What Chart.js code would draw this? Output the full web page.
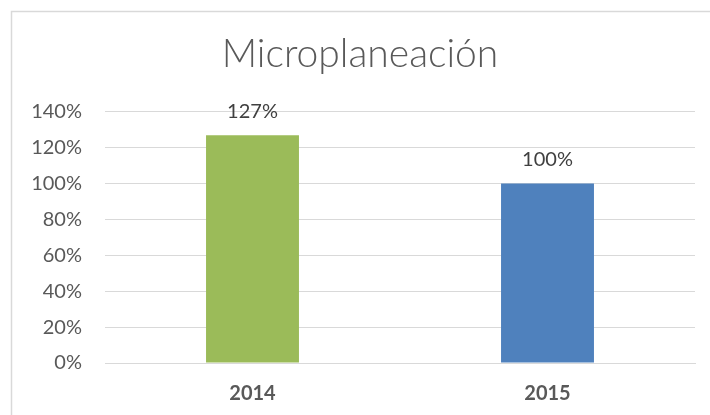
<!DOCTYPE html>
<html>
<head>
<meta charset="utf-8">
<script src="https://cdn.jsdelivr.net/npm/chart.js@4"></script>
<style>
  html, body { margin: 0; padding: 0; background: #fff; }
  #wrap { width: 710px; height: 415px; position: relative; }
</style>
</head>
<body>
<div id="wrap"><canvas id="chart" width="710" height="415"></canvas></div>
<script>
const TITLE = 'Microplaneación';
const YEARS = ['2014', '2015'];
const VALUES = [127, 100];
const BAR_COLORS = ['#9bbb59', '#4f81bd'];
const Y_MAX = 140;
const Y_STEP = 20;

// frame of the original chart (left and top edges only are visible)
const framePlugin = {
    id: 'frame',
    beforeDraw(chart) {
        const c = chart.ctx;
        c.save();
        c.strokeStyle = '#d9d9d9';
        c.lineWidth = 1.5;
        c.beginPath();
        c.moveTo(11.5, chart.height);
        c.lineTo(11.5, 11.5);
        c.lineTo(chart.width, 11.5);
        c.stroke();
        c.restore();
    }
};

const valueLabels = {
    id: 'valueLabels',
    afterDatasetsDraw(chart) {
        const c = chart.ctx;
        const meta = chart.getDatasetMeta(0);
        c.save();
        c.font = '20px Lato, "Liberation Sans", sans-serif';
        c.fillStyle = '#404040';
        c.textAlign = 'center';
        c.textBaseline = 'middle';
        meta.data.forEach((bar, i) => {
            c.fillText(VALUES[i] + '%', bar.x, bar.y - 24);
        });
        c.restore();
    }
};

new Chart(document.getElementById('chart'), {
    type: 'bar',
    data: {
        labels: YEARS,
        datasets: [{
            data: VALUES,
            backgroundColor: BAR_COLORS,
            barPercentage: 0.315,
            categoryPercentage: 1
        }]
    },
    options: {
        responsive: false,
        animation: false,
        layout: { padding: { left: 25, right: 15, top: 0, bottom: 0 } },
        plugins: {
            legend: { display: false },
            tooltip: { enabled: false },
            title: {
                display: true,
                text: TITLE,
                color: '#595959',
                font: { family: 'Lato, sans-serif', size: 39, weight: 300 },
                padding: { top: 31, bottom: 34 }
            }
        },
        scales: {
            x: {
                grid: { display: false, drawTicks: false },
                border: { display: true, color: '#d9d9d9', width: 1 },
                ticks: {
                    color: '#595959',
                    padding: 19,
                    font: { family: 'Lato, sans-serif', size: 20, weight: 'bold' }
                },
                afterFit(scale) { scale.height = 52; }
            },
            y: {
                min: 0,
                max: Y_MAX,
                grid: { color: '#d9d9d9', drawTicks: false },
                border: { display: false },
                ticks: {
                    stepSize: Y_STEP,
                    color: '#595959',
                    padding: 23,
                    font: { family: 'Lato, sans-serif', size: 20 },
                    callback: v => v + '%'
                },
                afterFit(scale) { scale.width = 80; }
            }
        }
    },
    plugins: [framePlugin, valueLabels]
});
</script>
</body>
</html>
